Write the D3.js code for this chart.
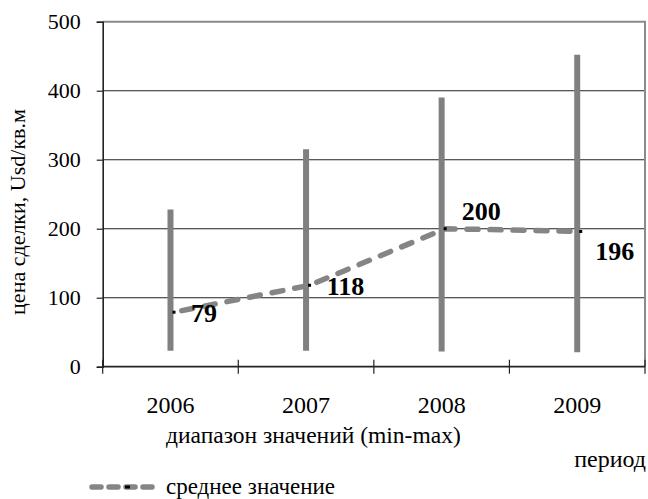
<!DOCTYPE html>
<html>
<head>
<meta charset="utf-8">
<script src="https://cdn.jsdelivr.net/npm/d3@7"></script>
<style>
  html, body { margin: 0; padding: 0; background: #fff; }
  svg { display: block; }
  text { font-family: "Liberation Serif", "Times New Roman", serif; fill: #000; }
</style>
</head>
<body>
<svg id="chart" width="648" height="499"></svg>
<script>
// Price range per year (min–max) and the average deal price
const years = ["2006", "2007", "2008", "2009"];
const minValues = [23, 23, 22, 21];
const maxValues = [228, 315, 390, 452];
const meanValues = [79, 118, 200, 196];
const yTicks = [0, 100, 200, 300, 400, 500];

// Hand-placed label offsets (px) relative to each average point
const labelOffsets = [[30, 10], [36, 10], [36, -9], [34, 29]];

const plot = { left: 102.7, right: 645, top: 21.7, bottom: 366.7 };

const svg = d3.select("#chart");

const x = d3.scaleBand().domain(years).range([plot.left, plot.right]).padding(0);
const y = d3.scaleLinear().domain([0, 500]).range([plot.bottom, plot.top]);
const cx = d => x(d) + x.bandwidth() / 2;
const lineShift = 3.5;

// Horizontal gridlines
svg.append("g")
  .selectAll("line")
  .data(yTicks.filter(t => t > 0 && t < 500))
  .join("line")
  .attr("x1", plot.left).attr("x2", plot.right)
  .attr("y1", d => y(d)).attr("y2", d => y(d))
  .attr("stroke", "#222").attr("stroke-width", 1.1);

// Plot-area border (top and right)
svg.append("path")
  .attr("d", `M${plot.left},${y(500)}H${plot.right}V${plot.bottom}`)
  .attr("fill", "none").attr("stroke", "#8a8a8a").attr("stroke-width", 2);

// Y axis
const yAxis = svg.append("g")
  .attr("transform", `translate(${plot.left},0)`)
  .call(d3.axisLeft(y).tickValues(yTicks).tickSize(6).tickPadding(16).tickFormat(d3.format("d")));
yAxis.select(".domain").attr("stroke", "#222").attr("stroke-width", 1.6);
yAxis.selectAll(".tick line").attr("stroke", "#222").attr("stroke-width", 1.2);
yAxis.selectAll(".tick text")
  .attr("font-size", 22).attr("fill", "#000").attr("dy", "0.33em");

// X axis: ticks sit on category boundaries and cross the axis line
const xAxisG = svg.append("g");
xAxisG.append("line")
  .attr("x1", plot.left).attr("x2", plot.right)
  .attr("y1", y(0)).attr("y2", y(0))
  .attr("stroke", "#222").attr("stroke-width", 1.8);
const boundaries = years.map(d => x(d)).concat([x(years[years.length - 1]) + x.bandwidth()]);
xAxisG.selectAll("line.tk")
  .data(boundaries)
  .join("line")
  .attr("class", "tk")
  .attr("x1", d => d).attr("x2", d => d)
  .attr("y1", y(0) - 7).attr("y2", y(0) + 7)
  .attr("stroke", "#222").attr("stroke-width", 1.2);
xAxisG.selectAll("text")
  .data(years)
  .join("text")
  .attr("x", d => cx(d)).attr("y", 412.5)
  .attr("text-anchor", "middle")
  .attr("font-size", 24)
  .text(d => d);

// Min–max range bars
svg.append("g")
  .selectAll("line")
  .data(years)
  .join("line")
  .attr("x1", d => cx(d)).attr("x2", d => cx(d))
  .attr("y1", (d, i) => y(minValues[i])).attr("y2", (d, i) => y(maxValues[i]))
  .attr("stroke", "#808080").attr("stroke-width", 6);

// Average price line
const meanPts = years.map((d, i) => [cx(d) + lineShift, y(meanValues[i])]);
svg.append("path")
  .attr("d", d3.line()(meanPts))
  .attr("fill", "none")
  .attr("stroke", "#858585")
  .attr("stroke-width", 5.5)
  .attr("stroke-linecap", "round")
  .attr("stroke-dasharray", "11,12")
  .attr("stroke-dashoffset", -8);

// Point markers
svg.append("g")
  .selectAll("rect")
  .data(meanPts)
  .join("rect")
  .attr("x", d => d[0] - 1.5).attr("y", d => d[1] - 1.5)
  .attr("width", 3).attr("height", 3)
  .attr("fill", "#000");

// Value labels
svg.append("g")
  .selectAll("text")
  .data(meanValues)
  .join("text")
  .attr("x", (d, i) => meanPts[i][0] + labelOffsets[i][0])
  .attr("y", (d, i) => meanPts[i][1] + labelOffsets[i][1])
  .attr("text-anchor", "middle")
  .attr("font-size", 26)
  .attr("font-weight", "bold")
  .text(d => d);

// Axis titles
svg.append("text")
  .attr("transform", `translate(25,212) rotate(-90)`)
  .attr("text-anchor", "middle")
  .attr("font-size", 22)
  .text("цена сделки, Usd/кв.м");

svg.append("text")
  .attr("x", 166).attr("y", 443)
  .attr("font-size", 23.5)
  .text("диапазон значений (min-max)");

svg.append("text")
  .attr("x", 646).attr("y", 467)
  .attr("text-anchor", "end")
  .attr("font-size", 24)
  .text("период");

// Legend
const legY = 487;
svg.append("line")
  .attr("x1", 92).attr("x2", 152)
  .attr("y1", legY).attr("y2", legY)
  .attr("stroke", "#858585")
  .attr("stroke-width", 5.5)
  .attr("stroke-linecap", "round")
  .attr("stroke-dasharray", "9,8");
svg.append("rect")
  .attr("x", 125).attr("y", legY - 1.5)
  .attr("width", 5).attr("height", 3)
  .attr("fill", "#000");
svg.append("text")
  .attr("x", 166).attr("y", 494)
  .attr("font-size", 23)
  .text("среднее значение");
</script>
</body>
</html>
